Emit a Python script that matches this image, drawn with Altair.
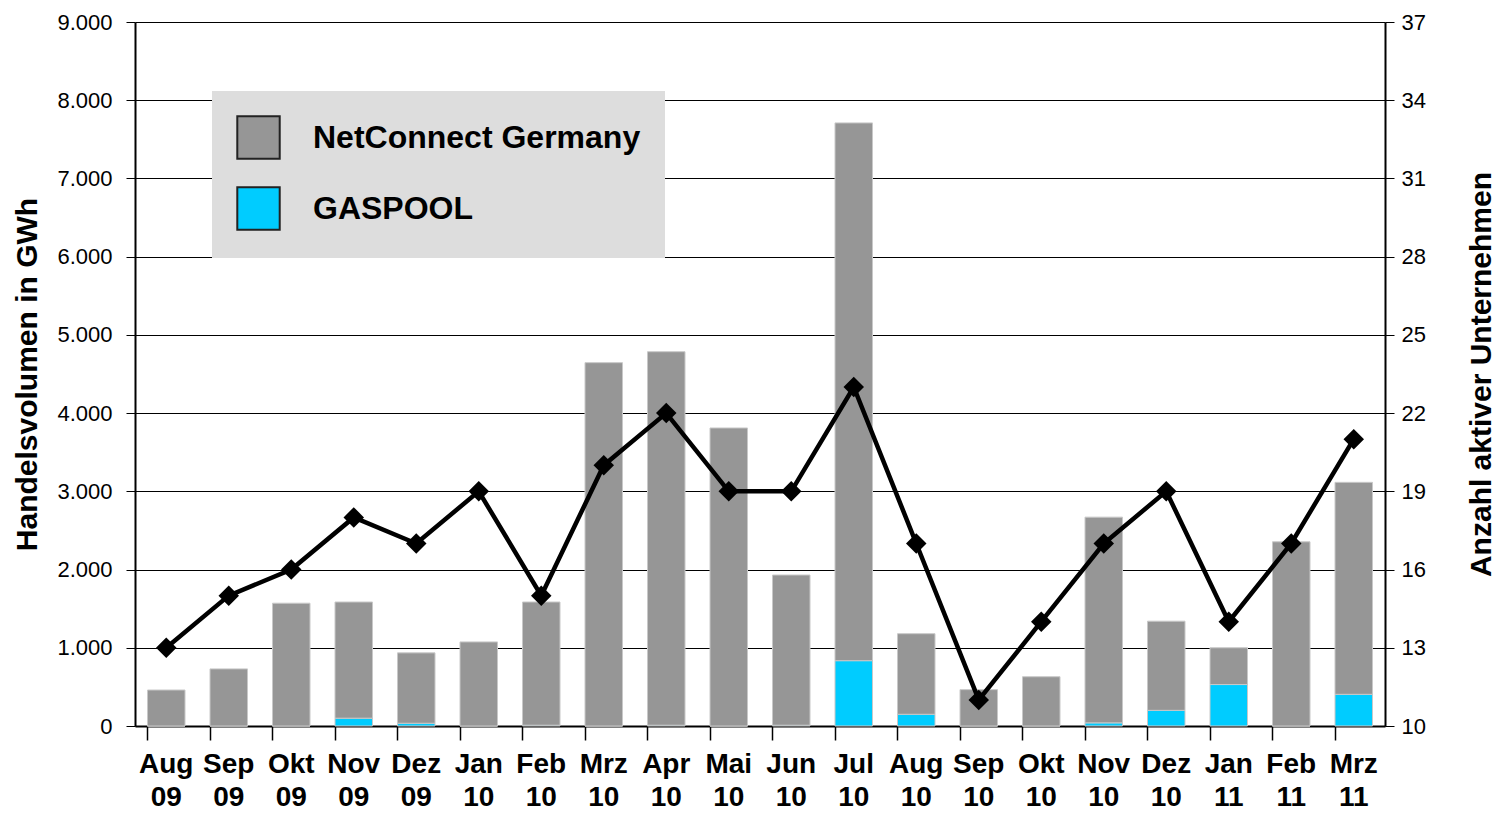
import altair as alt
import pandas as pd

months = ["Aug 09", "Sep 09", "Okt 09", "Nov 09", "Dez 09", "Jan 10", "Feb 10", "Mrz 10",
          "Apr 10", "Mai 10", "Jun 10", "Jul 10", "Aug 10", "Sep 10", "Okt 10", "Nov 10",
          "Dez 10", "Jan 11", "Feb 11", "Mrz 11"]
totals = [460, 730, 1570, 1585, 935, 1075, 1585, 4645, 4785, 3810, 1930, 7710, 1180, 465,
          630, 2670, 1340, 1000, 2355, 3115]
gaspool = [0, 0, 0, 100, 35, 0, 10, 0, 10, 0, 10, 835, 150, 0, 0, 40, 200, 530, 0, 405]
companies = [13, 15, 16, 18, 17, 19, 15, 20, 22, 19, 19, 23, 17, 11, 14, 17, 19, 14, 17, 21]

series = ["NetConnect Germany", "GASPOOL"]
colors = ["#969696", "#00ccff"]

rows = []
for m, t, g in zip(months, totals, gaspool):
    rows.append({"Monat": m, "Netz": "GASPOOL", "Wert": g, "ord": 0})
    rows.append({"Monat": m, "Netz": "NetConnect Germany", "Wert": t - g, "ord": 1})
bars_df = pd.DataFrame(rows)
line_df = pd.DataFrame({"Monat": months, "Anzahl": companies})

font = "Liberation Sans"

x_enc = alt.X("Monat:N", sort=months, title=None,
              scale=alt.Scale(paddingInner=0.4, paddingOuter=0.2),
              axis=alt.Axis(labelExpr="split(datum.label, ' ')", labelAngle=0,
                            labelFontSize=28, labelFontWeight="bold", labelColor="black",
                            labelFont=font, labelLineHeight=33, labelPadding=10,
                            bandPosition=0, tickSize=14, tickColor="black", tickWidth=1.5,
                            domainColor="black", domainWidth=2, grid=False))

bars = alt.Chart(bars_df).mark_bar(stroke="#c8c8c8", strokeWidth=1).encode(
    x=x_enc,
    y=alt.Y("Wert:Q", stack="zero", title="Handelsvolumen in GWh",
            scale=alt.Scale(domain=[0, 9000], nice=False),
            axis=alt.Axis(values=list(range(0, 9001, 1000)),
                          labelExpr="replace(format(datum.value, ','), ',', '.')",
                          labelFontSize=22, labelFont=font, labelColor="black",
                          titleFontSize=30, titleFont=font, titleFontWeight="bold",
                          titleColor="black", titlePadding=14,
                          grid=True, gridColor="black", gridWidth=1.2,
                          tickColor="black", tickSize=9, domainColor="black",
                          domainWidth=2, labelPadding=14)),
    color=alt.Color("Netz:N", scale=alt.Scale(domain=series, range=colors),
                    legend=alt.Legend(title=None, orient="none", legendX=77, legendY=69,
                                      fillColor="#dddddd", padding=24, symbolType="square",
                                      symbolSize=1800, symbolStrokeColor="#222222",
                                      symbolStrokeWidth=2, labelFontSize=32,
                                      labelFontWeight="bold", labelFont=font,
                                      labelColor="black", labelOffset=32, rowPadding=20,
                                      labelLimit=400, symbolOpacity=1)),
    order=alt.Order("ord:Q"),
)

line = alt.Chart(line_df).mark_line(color="black", strokeWidth=4.5,
                                     point=alt.OverlayMarkDef(shape="diamond", size=420,
                                                              filled=True, color="black")).encode(
    x=alt.X("Monat:N", sort=months),
    y=alt.Y("Anzahl:Q", title="Anzahl aktiver Unternehmen",
            scale=alt.Scale(domain=[10, 37], nice=False, zero=False),
            axis=alt.Axis(orient="right", values=list(range(10, 38, 3)),
                          labelFontSize=22, labelFont=font, labelColor="black",
                          titleFontSize=30, titleFont=font, titleFontWeight="bold",
                          titleColor="black", titleAngle=270, titleBaseline="top",
                          titlePadding=41,
                          grid=False, tickColor="black", tickSize=9,
                          domainColor="black", domainWidth=2, labelPadding=7)),
)

chart = alt.layer(bars, line).resolve_scale(y="independent").properties(
    width=1493, height=803,
    autosize=alt.AutoSizeParams(type="fit", contains="padding"),
    padding={"left": 4, "right": 4, "top": 3, "bottom": 0},
).configure_view(stroke=None).configure_axis(titleFontWeight="bold")

chart.save("out.html", embed_options={"renderer": "svg", "actions": False})
